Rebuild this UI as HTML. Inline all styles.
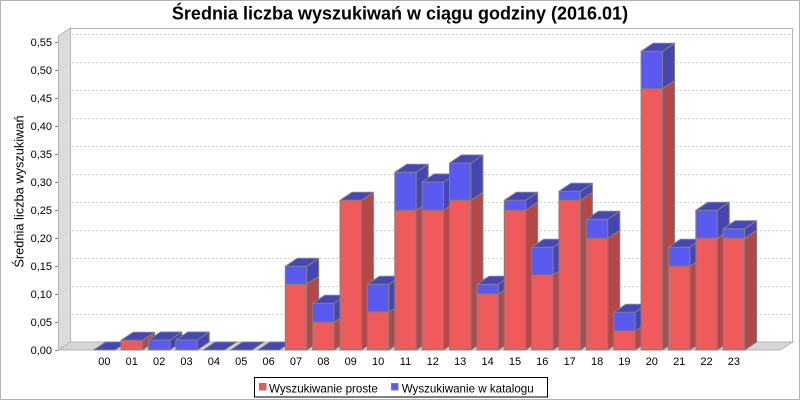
<!DOCTYPE html>
<html><head><meta charset="utf-8"><style>
html,body{margin:0;padding:0;background:#fff;}
svg{display:block;}
text{font-family:"Liberation Sans",Arial,sans-serif;}
</style></head><body>
<svg width="800" height="400" viewBox="0 0 800 400" xmlns="http://www.w3.org/2000/svg">
<rect x="0" y="0" width="800" height="400" fill="#fff"/>
<rect x="0.5" y="0.5" width="799" height="399" fill="none" stroke="#b4b4b4"/>
<text x="400" y="19.5" font-size="18" font-weight="bold" text-anchor="middle" fill="#000">Średnia liczba wyszukiwań w ciągu godziny (2016.01)</text>
<!-- walls -->
<rect x="70.5" y="28.5" width="722" height="314" fill="#fff" stroke="#b4b4b4"/>
<polygon points="58.5,350 58.5,36 70.5,28 70.5,342" fill="#dcdcdc" stroke="#b4b4b4"/>
<polygon points="58.5,350 70.5,342 792.5,342 780.5,350" fill="#d6d6d6" stroke="#b4b4b4"/>
<!-- gridlines -->
<g stroke="#cfcfcf" stroke-dasharray="2,2" fill="none" stroke-width="1">
<polyline points="58.5,322.5 70.5,314.5 792,314.5"/>
<polyline points="58.5,294.5 70.5,286.5 792,286.5"/>
<polyline points="58.5,266.5 70.5,258.5 792,258.5"/>
<polyline points="58.5,238.5 70.5,230.5 792,230.5"/>
<polyline points="58.5,210.5 70.5,202.5 792,202.5"/>
<polyline points="58.5,182.5 70.5,174.5 792,174.5"/>
<polyline points="58.5,154.5 70.5,146.5 792,146.5"/>
<polyline points="58.5,126.5 70.5,118.5 792,118.5"/>
<polyline points="58.5,98.5 70.5,90.5 792,90.5"/>
<polyline points="58.5,70.5 70.5,62.5 792,62.5"/>
<polyline points="58.5,42.5 70.5,34.5 792,34.5"/>
</g>
<!-- y ticks -->
<g stroke="#808080" stroke-width="1">
<line x1="55" y1="350.5" x2="58" y2="350.5"/>
<line x1="55" y1="322.5" x2="58" y2="322.5"/>
<line x1="55" y1="294.5" x2="58" y2="294.5"/>
<line x1="55" y1="266.5" x2="58" y2="266.5"/>
<line x1="55" y1="238.5" x2="58" y2="238.5"/>
<line x1="55" y1="210.5" x2="58" y2="210.5"/>
<line x1="55" y1="182.5" x2="58" y2="182.5"/>
<line x1="55" y1="154.5" x2="58" y2="154.5"/>
<line x1="55" y1="126.5" x2="58" y2="126.5"/>
<line x1="55" y1="98.5" x2="58" y2="98.5"/>
<line x1="55" y1="70.5" x2="58" y2="70.5"/>
<line x1="55" y1="42.5" x2="58" y2="42.5"/>
</g>
<g font-size="11" text-anchor="end" fill="#000">
<text x="52" y="354">0,00</text>
<text x="52" y="326">0,05</text>
<text x="52" y="298">0,10</text>
<text x="52" y="270">0,15</text>
<text x="52" y="242">0,20</text>
<text x="52" y="214">0,25</text>
<text x="52" y="186">0,30</text>
<text x="52" y="158">0,35</text>
<text x="52" y="130">0,40</text>
<text x="52" y="102">0,45</text>
<text x="52" y="74">0,50</text>
<text x="52" y="46">0,55</text>
</g>
<text transform="translate(23.3,191.5) rotate(-90)" font-size="12.8" text-anchor="middle" fill="#000">Średnia liczba wyszukiwań</text>

<!-- bars -->
<g stroke="#808080" stroke-width="1" stroke-linejoin="round">
<!-- 00 -->
<g transform="translate(93.7,0)"><polygon points="0,350 21.4,350 33.4,342 12,342" fill="#4646b6"/></g>
<!-- 01 -->
<g transform="translate(121.07,0)">
<rect x="0" y="340.3" width="21.4" height="9.7" fill="#ef5a5a"/>
<polygon points="21.4,350 33.4,342 33.4,332.3 21.4,340.3" fill="#b44848"/>
<polygon points="0,340.3 21.4,340.3 33.4,332.3 12,332.3" fill="#4646b6"/></g>
<!-- 02 -->
<g transform="translate(148.44,0)">
<rect x="0" y="340" width="21.4" height="10" fill="#5a5af0"/>
<polygon points="21.4,350 33.4,342 33.4,332 21.4,340" fill="#4646b2"/>
<polygon points="0,340 21.4,340 33.4,332 12,332" fill="#4646b6"/></g>
<!-- 03 -->
<g transform="translate(175.81,0)">
<rect x="0" y="340" width="21.4" height="10" fill="#5a5af0"/>
<polygon points="21.4,350 33.4,342 33.4,332 21.4,340" fill="#4646b2"/>
<polygon points="0,340 21.4,340 33.4,332 12,332" fill="#4646b6"/></g>
<!-- 04 -->
<g transform="translate(203.18,0)"><polygon points="0,350 21.4,350 33.4,342 12,342" fill="#4646b6"/></g>
<!-- 05 -->
<g transform="translate(230.55,0)"><polygon points="0,350 21.4,350 33.4,342 12,342" fill="#4646b6"/></g>
<!-- 06 -->
<g transform="translate(257.92,0)"><polygon points="0,350 21.4,350 33.4,342 12,342" fill="#4646b6"/></g>
<!-- 07 -->
<g transform="translate(285.29,0)">
<rect x="0" y="284.3" width="21.4" height="65.7" fill="#ef5a5a"/>
<polygon points="21.4,350 33.4,342 33.4,276.3 21.4,284.3" fill="#b44848"/>
<rect x="0" y="266.3" width="21.4" height="18" fill="#5a5af0"/>
<polygon points="21.4,284.3 33.4,276.3 33.4,258.3 21.4,266.3" fill="#4646b2"/>
<polygon points="0,266.3 21.4,266.3 33.4,258.3 12,258.3" fill="#4646b6"/></g>
<!-- 08 -->
<g transform="translate(312.66,0)">
<rect x="0" y="322.3" width="21.4" height="27.7" fill="#ef5a5a"/>
<polygon points="21.4,350 33.4,342 33.4,314.3 21.4,322.3" fill="#b44848"/>
<rect x="0" y="303.3" width="21.4" height="19" fill="#5a5af0"/>
<polygon points="21.4,322.3 33.4,314.3 33.4,295.3 21.4,303.3" fill="#4646b2"/>
<polygon points="0,303.3 21.4,303.3 33.4,295.3 12,295.3" fill="#4646b6"/></g>
<!-- 09 -->
<g transform="translate(340.03,0)">
<rect x="0" y="200.3" width="21.4" height="149.7" fill="#ef5a5a"/>
<polygon points="21.4,350 33.4,342 33.4,192.3 21.4,200.3" fill="#b44848"/>
<polygon points="0,200.3 21.4,200.3 33.4,192.3 12,192.3" fill="#4646b6"/></g>
<!-- 10 -->
<g transform="translate(367.4,0)">
<rect x="0" y="312" width="21.4" height="38" fill="#ef5a5a"/>
<polygon points="21.4,350 33.4,342 33.4,304 21.4,312" fill="#b44848"/>
<rect x="0" y="284.3" width="21.4" height="27.7" fill="#5a5af0"/>
<polygon points="21.4,312 33.4,304 33.4,276.3 21.4,284.3" fill="#4646b2"/>
<polygon points="0,284.3 21.4,284.3 33.4,276.3 12,276.3" fill="#4646b6"/></g>
<!-- 11 -->
<g transform="translate(394.77,0)">
<rect x="0" y="210.3" width="21.4" height="139.7" fill="#ef5a5a"/>
<polygon points="21.4,350 33.4,342 33.4,202.3 21.4,210.3" fill="#b44848"/>
<rect x="0" y="172.3" width="21.4" height="38" fill="#5a5af0"/>
<polygon points="21.4,210.3 33.4,202.3 33.4,164.3 21.4,172.3" fill="#4646b2"/>
<polygon points="0,172.3 21.4,172.3 33.4,164.3 12,164.3" fill="#4646b6"/></g>
<!-- 12 -->
<g transform="translate(422.14,0)">
<rect x="0" y="210.3" width="21.4" height="139.7" fill="#ef5a5a"/>
<polygon points="21.4,350 33.4,342 33.4,202.3 21.4,210.3" fill="#b44848"/>
<rect x="0" y="182" width="21.4" height="28.3" fill="#5a5af0"/>
<polygon points="21.4,210.3 33.4,202.3 33.4,174 21.4,182" fill="#4646b2"/>
<polygon points="0,182 21.4,182 33.4,174 12,174" fill="#4646b6"/></g>
<!-- 13 -->
<g transform="translate(449.51,0)">
<rect x="0" y="200.3" width="21.4" height="149.7" fill="#ef5a5a"/>
<polygon points="21.4,350 33.4,342 33.4,192.3 21.4,200.3" fill="#b44848"/>
<rect x="0" y="163" width="21.4" height="37.3" fill="#5a5af0"/>
<polygon points="21.4,200.3 33.4,192.3 33.4,155 21.4,163" fill="#4646b2"/>
<polygon points="0,163 21.4,163 33.4,155 12,155" fill="#4646b6"/></g>
<!-- 14 -->
<g transform="translate(476.88,0)">
<rect x="0" y="294" width="21.4" height="56" fill="#ef5a5a"/>
<polygon points="21.4,350 33.4,342 33.4,286 21.4,294" fill="#b44848"/>
<rect x="0" y="284.3" width="21.4" height="9.7" fill="#5a5af0"/>
<polygon points="21.4,294 33.4,286 33.4,276.3 21.4,284.3" fill="#4646b2"/>
<polygon points="0,284.3 21.4,284.3 33.4,276.3 12,276.3" fill="#4646b6"/></g>
<!-- 15 -->
<g transform="translate(504.25,0)">
<rect x="0" y="210.3" width="21.4" height="139.7" fill="#ef5a5a"/>
<polygon points="21.4,350 33.4,342 33.4,202.3 21.4,210.3" fill="#b44848"/>
<rect x="0" y="200.3" width="21.4" height="10" fill="#5a5af0"/>
<polygon points="21.4,210.3 33.4,202.3 33.4,192.3 21.4,200.3" fill="#4646b2"/>
<polygon points="0,200.3 21.4,200.3 33.4,192.3 12,192.3" fill="#4646b6"/></g>
<!-- 16 -->
<g transform="translate(531.62,0)">
<rect x="0" y="275" width="21.4" height="75" fill="#ef5a5a"/>
<polygon points="21.4,350 33.4,342 33.4,267 21.4,275" fill="#b44848"/>
<rect x="0" y="247.3" width="21.4" height="27.7" fill="#5a5af0"/>
<polygon points="21.4,275 33.4,267 33.4,239.3 21.4,247.3" fill="#4646b2"/>
<polygon points="0,247.3 21.4,247.3 33.4,239.3 12,239.3" fill="#4646b6"/></g>
<!-- 17 -->
<g transform="translate(558.99,0)">
<rect x="0" y="200.3" width="21.4" height="149.7" fill="#ef5a5a"/>
<polygon points="21.4,350 33.4,342 33.4,192.3 21.4,200.3" fill="#b44848"/>
<rect x="0" y="191.3" width="21.4" height="9" fill="#5a5af0"/>
<polygon points="21.4,200.3 33.4,192.3 33.4,183.3 21.4,191.3" fill="#4646b2"/>
<polygon points="0,191.3 21.4,191.3 33.4,183.3 12,183.3" fill="#4646b6"/></g>
<!-- 18 -->
<g transform="translate(586.36,0)">
<rect x="0" y="238.3" width="21.4" height="111.7" fill="#ef5a5a"/>
<polygon points="21.4,350 33.4,342 33.4,230.3 21.4,238.3" fill="#b44848"/>
<rect x="0" y="219.3" width="21.4" height="19" fill="#5a5af0"/>
<polygon points="21.4,238.3 33.4,230.3 33.4,211.3 21.4,219.3" fill="#4646b2"/>
<polygon points="0,219.3 21.4,219.3 33.4,211.3 12,211.3" fill="#4646b6"/></g>
<!-- 19 -->
<g transform="translate(613.73,0)">
<rect x="0" y="331" width="21.4" height="19" fill="#ef5a5a"/>
<polygon points="21.4,350 33.4,342 33.4,323 21.4,331" fill="#b44848"/>
<rect x="0" y="312.3" width="21.4" height="18.7" fill="#5a5af0"/>
<polygon points="21.4,331 33.4,323 33.4,304.3 21.4,312.3" fill="#4646b2"/>
<polygon points="0,312.3 21.4,312.3 33.4,304.3 12,304.3" fill="#4646b6"/></g>
<!-- 20 -->
<g transform="translate(641.1,0)">
<rect x="0" y="88.7" width="21.4" height="261.3" fill="#ef5a5a"/>
<polygon points="21.4,350 33.4,342 33.4,80.7 21.4,88.7" fill="#b44848"/>
<rect x="0" y="51.3" width="21.4" height="37.4" fill="#5a5af0"/>
<polygon points="21.4,88.7 33.4,80.7 33.4,43.3 21.4,51.3" fill="#4646b2"/>
<polygon points="0,51.3 21.4,51.3 33.4,43.3 12,43.3" fill="#4646b6"/></g>
<!-- 21 -->
<g transform="translate(668.47,0)">
<rect x="0" y="266.3" width="21.4" height="83.7" fill="#ef5a5a"/>
<polygon points="21.4,350 33.4,342 33.4,258.3 21.4,266.3" fill="#b44848"/>
<rect x="0" y="247.3" width="21.4" height="19" fill="#5a5af0"/>
<polygon points="21.4,266.3 33.4,258.3 33.4,239.3 21.4,247.3" fill="#4646b2"/>
<polygon points="0,247.3 21.4,247.3 33.4,239.3 12,239.3" fill="#4646b6"/></g>
<!-- 22 -->
<g transform="translate(695.84,0)">
<rect x="0" y="238.3" width="21.4" height="111.7" fill="#ef5a5a"/>
<polygon points="21.4,350 33.4,342 33.4,230.3 21.4,238.3" fill="#b44848"/>
<rect x="0" y="210.3" width="21.4" height="28" fill="#5a5af0"/>
<polygon points="21.4,238.3 33.4,230.3 33.4,202.3 21.4,210.3" fill="#4646b2"/>
<polygon points="0,210.3 21.4,210.3 33.4,202.3 12,202.3" fill="#4646b6"/></g>
<!-- 23 -->
<g transform="translate(723.21,0)">
<rect x="0" y="238.3" width="21.4" height="111.7" fill="#ef5a5a"/>
<polygon points="21.4,350 33.4,342 33.4,230.3 21.4,238.3" fill="#b44848"/>
<rect x="0" y="228.7" width="21.4" height="9.6" fill="#5a5af0"/>
<polygon points="21.4,238.3 33.4,230.3 33.4,220.7 21.4,228.7" fill="#4646b2"/>
<polygon points="0,228.7 21.4,228.7 33.4,220.7 12,220.7" fill="#4646b6"/></g>
</g>

<!-- category labels -->
<g font-size="11" text-anchor="middle" fill="#000">
<text x="104.4" y="365">00</text>
<text x="131.8" y="365">01</text>
<text x="159.1" y="365">02</text>
<text x="186.5" y="365">03</text>
<text x="213.9" y="365">04</text>
<text x="241.3" y="365">05</text>
<text x="268.6" y="365">06</text>
<text x="296" y="365">07</text>
<text x="323.4" y="365">08</text>
<text x="350.7" y="365">09</text>
<text x="378.1" y="365">10</text>
<text x="405.5" y="365">11</text>
<text x="432.8" y="365">12</text>
<text x="460.2" y="365">13</text>
<text x="487.6" y="365">14</text>
<text x="515" y="365">15</text>
<text x="542.3" y="365">16</text>
<text x="569.7" y="365">17</text>
<text x="597.1" y="365">18</text>
<text x="624.4" y="365">19</text>
<text x="651.8" y="365">20</text>
<text x="679.2" y="365">21</text>
<text x="706.5" y="365">22</text>
<text x="733.9" y="365">23</text>
</g>

<!-- legend -->
<rect x="254.5" y="377.5" width="293" height="19.5" fill="#fff" stroke="#000"/>
<rect x="259.5" y="383.5" width="6.5" height="6.5" fill="#ef5a5a" stroke="#808080"/>
<text x="269" y="392.3" font-size="11.6" fill="#000">Wyszukiwanie proste</text>
<rect x="391.5" y="383.5" width="6.5" height="6.5" fill="#5a5af0" stroke="#808080"/>
<text x="401.7" y="392.3" font-size="11.6" fill="#000">Wyszukiwanie w katalogu</text>
</svg>
</body></html>
